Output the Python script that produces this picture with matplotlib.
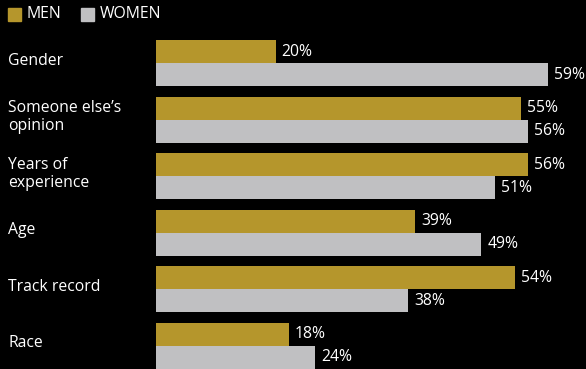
import matplotlib
matplotlib.use("Agg")
import matplotlib.pyplot as plt
from matplotlib.patches import Rectangle
import numpy as np

categories = ["Gender", "Someone else\u2019s\nopinion", "Years of\nexperience", "Age", "Track record", "Race"]
series = ["MEN", "WOMEN"]
men = [18, 55, 56, 39, 54, 20]
women = [59, 56, 51, 49, 38, 24]
men_labels = ["20%", "55%", "56%", "39%", "54%", "18%"]
women_labels = ["59%", "56%", "51%", "49%", "38%", "24%"]

gold = "#b5962c"
grey = "#c0c0c2"
W, H = 586, 369

plt.rcParams['font.family'] = ['Open Sans', 'DejaVu Sans']

fig = plt.figure(figsize=(W / 100, H / 100), dpi=100, facecolor="black")
# axes placed in pixel terms: bars start at x=156, top at y=30
ax = fig.add_axes([156 / W, 0, (W - 156) / W, (H - 30) / H])
ax.set_facecolor("black")

h = 0.407
y = np.arange(len(categories))
ax.barh(y - h / 2, men, height=h, color=gold)
ax.barh(y + h / 2, women, height=h, color=grey)

fs = 11.3
for i in range(len(categories)):
    ax.text(men[i] + 0.9, y[i] - h / 2, men_labels[i], color="white", fontsize=fs, va="center", ha="left")
    ax.text(women[i] + 0.9, y[i] + h / 2, women_labels[i], color="white", fontsize=fs, va="center", ha="left")
    ax.text(-148 / 6.64, y[i] - 0.04, categories[i], color="white", fontsize=fs, va="center", ha="left",
            linespacing=1.15)

ax.set_xlim(0, (W - 156) / 6.64)
ax.set_ylim(5.412, -0.584)
ax.axis("off")

# legend drawn by hand at the top left
x0 = 8
for name, col in zip(series, [gold, grey]):
    fig.patches.append(Rectangle((x0 / W, 1 - 21 / H), 13 / W, 13 / H, transform=fig.transFigure,
                                 color=col))
    t = fig.text((x0 + 19) / W, 1 - 14.5 / H, name, color="white", fontsize=fs, va="center", ha="left")
    x0 = 81

fig.savefig("out.png", dpi=100, facecolor="black")
